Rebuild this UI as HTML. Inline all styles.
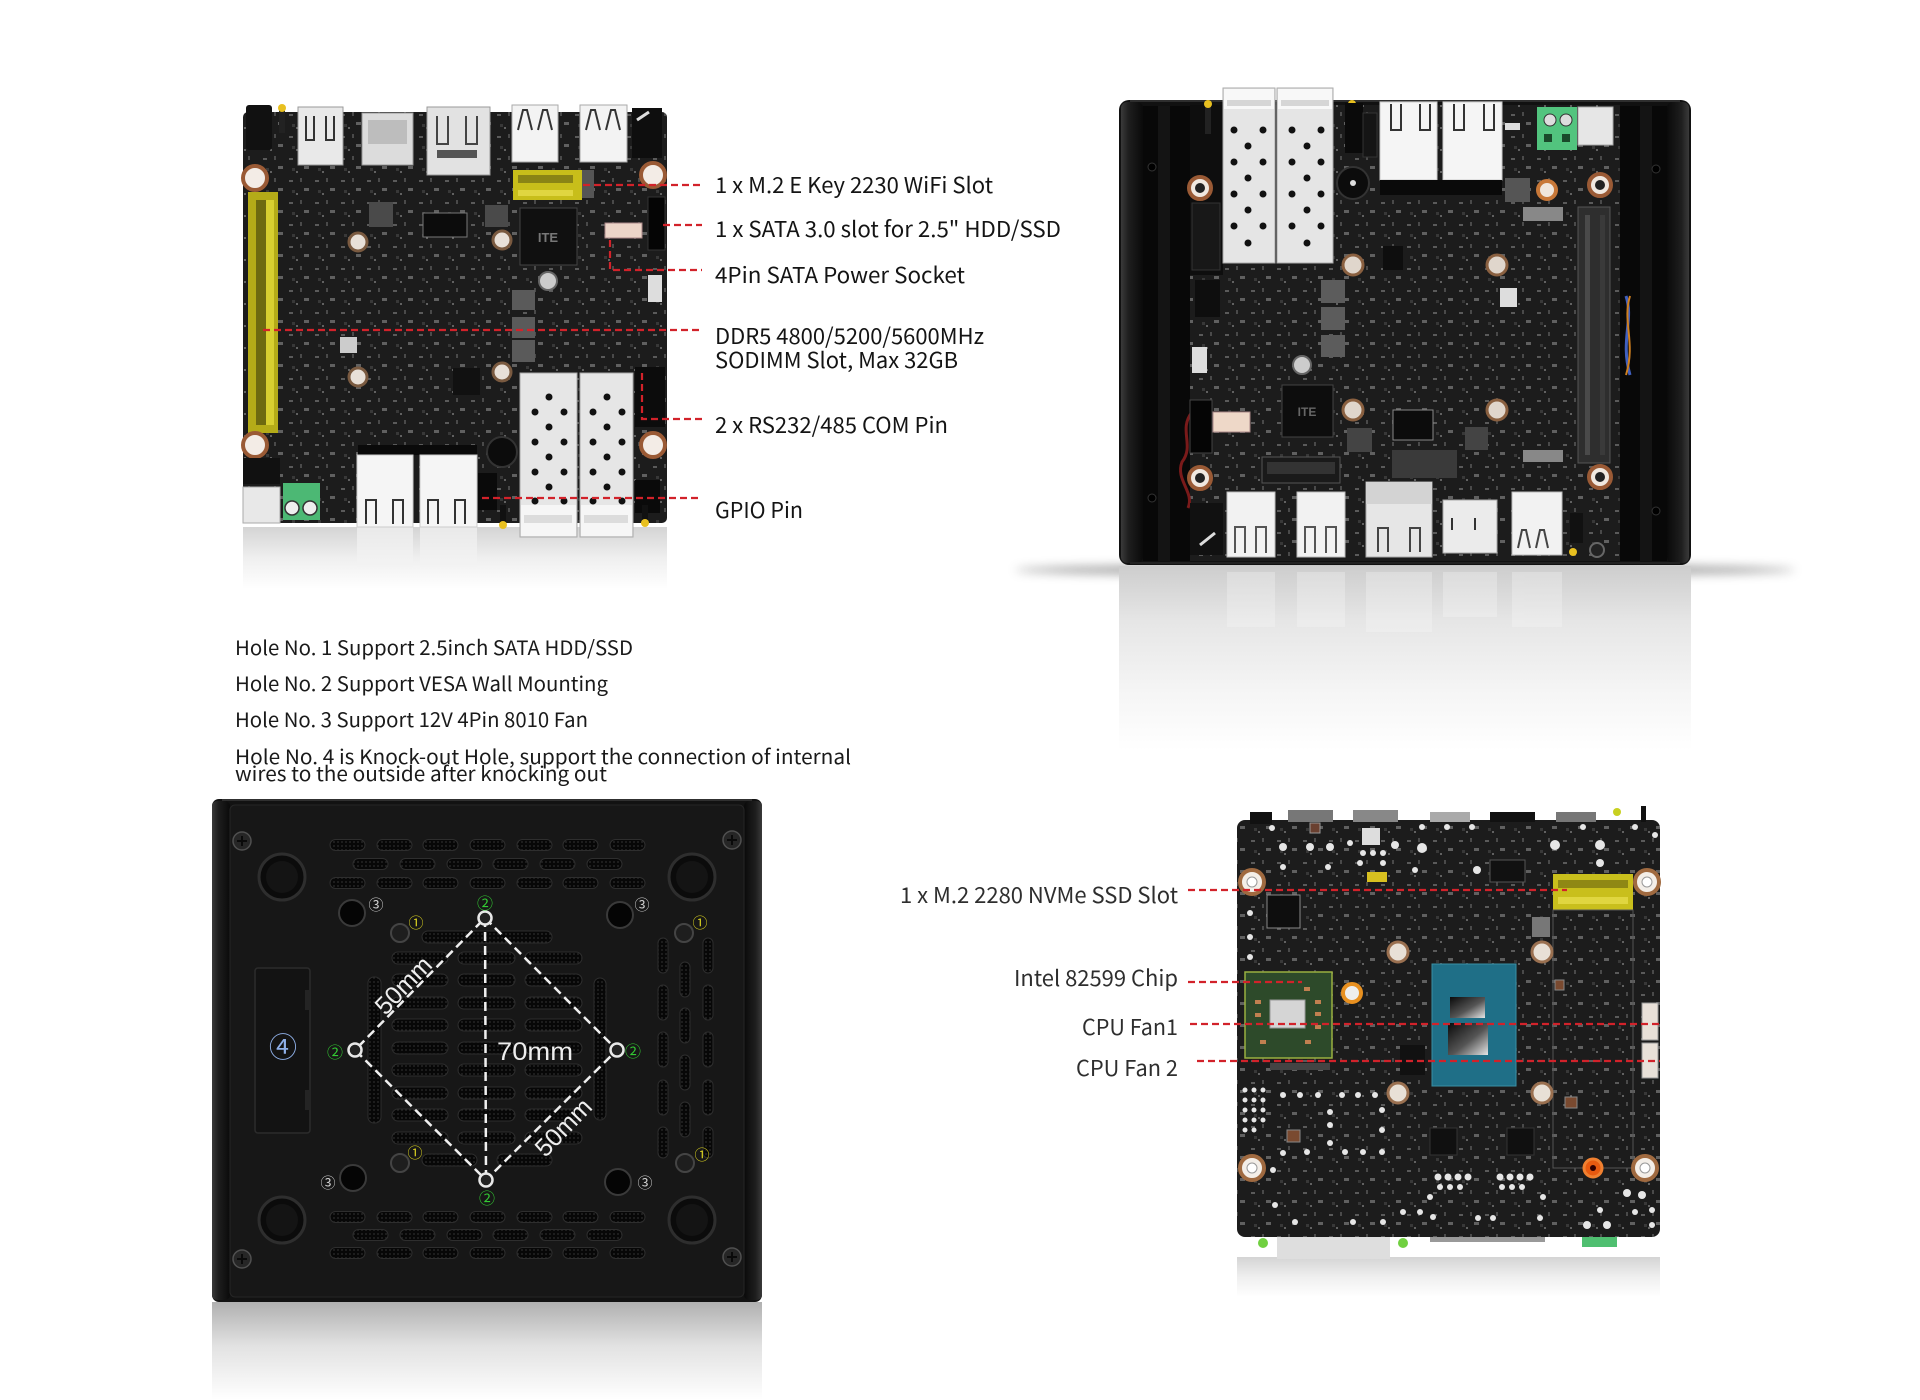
<!DOCTYPE html>
<html><head><meta charset="utf-8"><title>Board layout</title>
<style>
html,body{margin:0;padding:0;background:#fff;}
svg{display:block;}
.lbl{font-family:"Noto Sans CJK SC","Liberation Sans",sans-serif;font-size:22px;fill:#141414;}
.hole{font-family:"Noto Sans CJK SC","Liberation Sans",sans-serif;font-size:20px;fill:#1a1a1a;}
.lbr{font-family:"Noto Sans CJK SC","Liberation Sans",sans-serif;font-size:22px;fill:#2e2e2e;}
.cd{font-family:"Noto Sans CJK SC","DejaVu Sans",sans-serif;text-anchor:middle;}
</style></head>
<body>
<svg width="1920" height="1400" viewBox="0 0 1920 1400" xmlns="http://www.w3.org/2000/svg">
<defs>
  <pattern id="pcb" width="26" height="22" patternUnits="userSpaceOnUse">
    <rect width="26" height="22" fill="#1c1c1c"/>
    <rect x="3" y="4" width="4" height="2" fill="#5a5a5a"/>
    <rect x="14" y="2" width="2" height="4" fill="#4a4a4a"/>
    <rect x="18" y="12" width="5" height="3" fill="#606060"/>
    <rect x="6" y="14" width="3" height="3" fill="#383838"/>
    <circle cx="11" cy="18" r="1" fill="#777"/>
  </pattern>
  <pattern id="mesh" width="4" height="4" patternUnits="userSpaceOnUse">
    <rect width="4" height="4" fill="#070707"/><circle cx="2" cy="2" r="0.9" fill="#2c2c2c"/>
  </pattern>
  <linearGradient id="die" x1="0" y1="0" x2="1" y2="1">
    <stop offset="0" stop-color="#0a0a0a"/><stop offset="0.55" stop-color="#555"/><stop offset="1" stop-color="#e6e6e6"/>
  </linearGradient>
  <linearGradient id="railL" x1="0" y1="0" x2="1" y2="0">
    <stop offset="0" stop-color="#3a3a3a"/><stop offset="0.35" stop-color="#1e1e1e"/><stop offset="1" stop-color="#0a0a0a"/>
  </linearGradient>
  <linearGradient id="railR" x1="1" y1="0" x2="0" y2="0">
    <stop offset="0" stop-color="#3a3a3a"/><stop offset="0.35" stop-color="#1e1e1e"/><stop offset="1" stop-color="#0a0a0a"/>
  </linearGradient>
  <linearGradient id="reflA" x1="0" y1="0" x2="0" y2="1">
    <stop offset="0" stop-color="#d4d4d4"/><stop offset="0.5" stop-color="#efefef"/><stop offset="1" stop-color="#fff"/>
  </linearGradient>
  <linearGradient id="reflB" x1="0" y1="0" x2="0" y2="1">
    <stop offset="0" stop-color="#cdcdcd"/><stop offset="0.3" stop-color="#e6e6e6"/><stop offset="0.7" stop-color="#f6f6f6"/><stop offset="1" stop-color="#fff"/>
  </linearGradient>
  <linearGradient id="reflC" x1="0" y1="0" x2="0" y2="1">
    <stop offset="0" stop-color="#b0b0b0"/><stop offset="0.45" stop-color="#e2e2e2"/><stop offset="1" stop-color="#fff"/>
  </linearGradient>
  <filter id="blur" x="-20%" y="-200%" width="140%" height="500%"><feGaussianBlur stdDeviation="5"/></filter>
</defs>

<rect width="1920" height="1400" fill="#fff"/>

<!-- ================= BOARD A (top-left) ================= -->
<rect x="243" y="527" width="424" height="62" fill="url(#reflA)"/>
<rect x="357" y="527" width="56" height="40" fill="#f2f2f2" opacity="0.7"/>
<rect x="420" y="527" width="57" height="40" fill="#f2f2f2" opacity="0.7"/>
<rect x="243" y="112" width="424" height="411" rx="5" fill="url(#pcb)"/>
<rect x="246" y="105" width="26" height="45" rx="3" fill="#111"/>
<rect x="279" y="108" width="6" height="25" fill="#222"/><circle cx="282" cy="108" r="4" fill="#e8c020"/>
<rect x="298" y="107" width="45" height="58" fill="#e9e9e9" stroke="#999"/>
<path d="M306 116v24h8v-24 M326 116v24h8v-24" fill="none" stroke="#333" stroke-width="2"/>
<rect x="362" y="113" width="51" height="52" fill="#dcdcdc" stroke="#999"/>
<rect x="368" y="120" width="39" height="24" fill="#bdbdbd"/>
<rect x="427" y="107" width="63" height="68" fill="#e2e2e2" stroke="#999"/>
<path d="M437 116v28h11v-28 M466 116v28h11v-28" fill="none" stroke="#444" stroke-width="2"/>
<rect x="437" y="150" width="40" height="8" fill="#555"/>
<rect x="512" y="105" width="46" height="57" fill="#f3f3f3" stroke="#aaa"/>
<path d="M518 130l5-20h4l5 20 M538 130l5-20h4l5 20" fill="none" stroke="#333" stroke-width="2"/>
<rect x="580" y="105" width="47" height="57" fill="#f3f3f3" stroke="#aaa"/>
<path d="M586 130l5-20h4l5 20 M606 130l5-20h4l5 20" fill="none" stroke="#333" stroke-width="2"/>
<rect x="632" y="108" width="30" height="50" fill="#0e0e0e"/>
<path d="M637 120l12-8" stroke="#ddd" stroke-width="3"/>
<rect x="513" y="170" width="69" height="30" fill="#c8be1a"/>
<rect x="518" y="175" width="55" height="8" fill="#8a8415"/>
<rect x="518" y="190" width="55" height="6" fill="#e0d640"/>
<rect x="582" y="170" width="12" height="28" fill="#555"/>
<rect x="248" y="192" width="30" height="241" fill="#b4ab18"/>
<rect x="256" y="200" width="14" height="225" fill="#6e6a10"/>
<rect x="266" y="200" width="8" height="225" fill="#d8cf30"/>
<g fill="#f3ece6" stroke="#9a5a35" stroke-width="4">
<circle cx="255" cy="178" r="12"/><circle cx="653" cy="175" r="12"/><circle cx="255" cy="445" r="12"/><circle cx="653" cy="445" r="12"/>
</g>
<g fill="#e8e0d8" stroke="#7a5a40" stroke-width="3">
<circle cx="358" cy="242" r="9"/><circle cx="502" cy="240" r="9"/><circle cx="358" cy="377" r="9"/><circle cx="502" cy="372" r="9"/>
</g>
<rect x="520" y="208" width="57" height="57" fill="#101010" stroke="#444"/>
<text x="548" y="242" font-family="Liberation Sans,sans-serif" font-size="13" font-weight="bold" fill="#777" text-anchor="middle">ITE</text>
<rect x="369" y="202" width="24" height="25" fill="#4a4a4a"/>
<rect x="485" y="205" width="23" height="22" fill="#4a4a4a"/>
<rect x="423" y="213" width="44" height="24" fill="#0c0c0c" stroke="#777"/>
<rect x="512" y="290" width="23" height="20" fill="#5a5a5a"/>
<rect x="512" y="317" width="23" height="21" fill="#5a5a5a"/>
<rect x="512" y="340" width="23" height="22" fill="#5a5a5a"/>
<rect x="648" y="197" width="17" height="53" fill="#050505" stroke="#333"/>
<rect x="605" y="223" width="37" height="15" fill="#ecd5c8" stroke="#a88"/>
<rect x="648" y="275" width="14" height="27" fill="#ddd"/>
<rect x="453" y="368" width="27" height="27" fill="#111"/>
<rect x="340" y="337" width="17" height="16" fill="#ccc"/>
<circle cx="548" cy="281" r="9" fill="#ccc" stroke="#666" stroke-width="2"/>
<rect x="635" y="367" width="30" height="60" fill="#0c0c0c"/>
<rect x="358" y="445" width="119" height="10" fill="#0a0a0a"/>
<rect x="243" y="458" width="37" height="26" fill="#111"/>
<rect x="243" y="487" width="37" height="36" fill="#e8e8e8" stroke="#aaa"/>
<rect x="283" y="483" width="37" height="37" fill="#4cb874"/>
<circle cx="292" cy="508" r="7" fill="#eee" stroke="#333" stroke-width="1.5"/>
<circle cx="310" cy="508" r="7" fill="#eee" stroke="#333" stroke-width="1.5"/>
<rect x="357" y="455" width="56" height="72" fill="#f5f5f5" stroke="#ccc"/>
<path d="M366 524v-24h10v24 M393 524v-24h10v24" fill="none" stroke="#333" stroke-width="2"/>
<rect x="420" y="455" width="57" height="72" fill="#f5f5f5" stroke="#ccc"/>
<path d="M428 524v-24h10v24 M455 524v-24h10v24" fill="none" stroke="#333" stroke-width="2"/>
<rect x="478" y="473" width="19" height="37" fill="#0a0a0a"/>
<circle cx="502" cy="452" r="15" fill="#0c0c0c" stroke="#333" stroke-width="2"/>
<rect x="500" y="505" width="6" height="20" fill="#111"/><circle cx="503" cy="525" r="4" fill="#e8c020"/>
<rect x="635" y="480" width="25" height="33" fill="#0a0a0a"/>
<rect x="642" y="505" width="6" height="18" fill="#111"/><circle cx="645" cy="523" r="4" fill="#e8c020"/>
<rect x="520" y="373" width="57" height="164" fill="#e6e6e6" stroke="#aaa"/>
<rect x="580" y="373" width="53" height="164" fill="#e6e6e6" stroke="#aaa"/>
<rect x="521" y="505" width="55" height="31" fill="#f6f6f6"/>
<rect x="581" y="505" width="51" height="31" fill="#f6f6f6"/>
<g fill="#dcdcdc"><rect x="524" y="515" width="48" height="8"/><rect x="584" y="515" width="44" height="8"/></g>
<g fill="#111">
<circle cx="549" cy="397" r="3.5"/><circle cx="535" cy="412" r="3.5"/><circle cx="564" cy="412" r="3.5"/>
<circle cx="549" cy="427" r="3.5"/><circle cx="535" cy="442" r="3.5"/><circle cx="564" cy="442" r="3.5"/>
<circle cx="549" cy="457" r="3.5"/><circle cx="535" cy="472" r="3.5"/><circle cx="564" cy="472" r="3.5"/>
<circle cx="549" cy="487" r="3.5"/><circle cx="535" cy="501" r="3.5"/><circle cx="564" cy="501" r="3.5"/>
<circle cx="607" cy="397" r="3.5"/><circle cx="593" cy="412" r="3.5"/><circle cx="622" cy="412" r="3.5"/>
<circle cx="607" cy="427" r="3.5"/><circle cx="593" cy="442" r="3.5"/><circle cx="622" cy="442" r="3.5"/>
<circle cx="607" cy="457" r="3.5"/><circle cx="593" cy="472" r="3.5"/><circle cx="622" cy="472" r="3.5"/>
<circle cx="607" cy="487" r="3.5"/><circle cx="593" cy="501" r="3.5"/><circle cx="622" cy="501" r="3.5"/>
</g>

<path d="M583 185H702 M663 225H702 M610 240V270H702 M263 330H702 M642 373V419H702 M482 498H702" fill="none" stroke="#d2222a" stroke-width="2.2" stroke-dasharray="7 4"/>
<text class="lbl" x="715" y="193" textLength="278" lengthAdjust="spacingAndGlyphs">1 x M.2 E Key 2230 WiFi Slot</text>
<text class="lbl" x="715" y="237" textLength="346" lengthAdjust="spacingAndGlyphs">1 x SATA 3.0 slot for 2.5" HDD/SSD</text>
<text class="lbl" x="715" y="283" textLength="250" lengthAdjust="spacingAndGlyphs">4Pin SATA Power Socket</text>
<text class="lbl" x="715" y="344" textLength="269" lengthAdjust="spacingAndGlyphs">DDR5 4800/5200/5600MHz</text>
<text class="lbl" x="715" y="368" textLength="243" lengthAdjust="spacingAndGlyphs">SODIMM Slot, Max 32GB</text>
<text class="lbl" x="715" y="433" textLength="233" lengthAdjust="spacingAndGlyphs">2 x RS232/485 COM Pin</text>
<text class="lbl" x="715" y="518" textLength="88" lengthAdjust="spacingAndGlyphs">GPIO Pin</text>

<!-- ================= BOX B (top-right) ================= -->
<ellipse cx="1405" cy="570" rx="390" ry="6" fill="#555" opacity="0.55" filter="url(#blur)"/>
<rect x="1119" y="566" width="572" height="185" fill="url(#reflB)"/>
<g fill="#fafafa" opacity="0.3">
<rect x="1227" y="572" width="48" height="55"/><rect x="1297" y="572" width="48" height="55"/>
<rect x="1366" y="572" width="66" height="60"/><rect x="1443" y="572" width="54" height="45"/><rect x="1512" y="572" width="50" height="55"/>
</g>
<rect x="1119" y="100" width="572" height="465" rx="10" fill="#111"/>
<rect x="1121" y="102" width="22" height="461" rx="6" fill="url(#railL)"/>
<rect x="1143" y="106" width="47" height="455" fill="#080808"/>
<rect x="1158" y="106" width="12" height="455" fill="#141414"/>
<rect x="1667" y="102" width="22" height="461" rx="6" fill="url(#railR)"/>
<rect x="1619" y="106" width="48" height="455" fill="#080808"/>
<rect x="1640" y="106" width="12" height="455" fill="#141414"/>
<line x1="1130" y1="101" x2="1680" y2="101" stroke="#4a4a4a"/>
<g fill="#000" stroke="#333"><circle cx="1152" cy="167" r="4"/><circle cx="1152" cy="498" r="4"/><circle cx="1656" cy="169" r="4"/><circle cx="1656" cy="511" r="4"/></g>
<rect x="1190" y="105" width="430" height="456" fill="url(#pcb)"/>
<path d="M1192 412 C1178 430 1195 445 1182 462 C1175 480 1195 492 1188 508" fill="none" stroke="#7a1a1a" stroke-width="3"/>
<path d="M1626 296 C1634 320 1620 340 1630 375" fill="none" stroke="#4060c0" stroke-width="3"/>
<path d="M1630 296 C1622 322 1636 342 1626 375" fill="none" stroke="#d08020" stroke-width="2"/>
<rect x="1190" y="105" width="33" height="170" fill="#0e0e0e"/>
<rect x="1205" y="104" width="6" height="30" fill="#222"/><circle cx="1208" cy="104" r="4" fill="#e8c020"/>
<rect x="1349" y="104" width="6" height="25" fill="#222"/><circle cx="1352" cy="104" r="4" fill="#e8c020"/>
<rect x="1223" y="88" width="52" height="175" fill="#e5e5e5" stroke="#aaa"/>
<rect x="1277" y="88" width="56" height="175" fill="#e5e5e5" stroke="#aaa"/>
<rect x="1224" y="89" width="50" height="20" fill="#f8f8f8"/><rect x="1278" y="89" width="54" height="20" fill="#f8f8f8"/>
<g fill="#d6d6d6"><rect x="1227" y="100" width="44" height="6"/><rect x="1281" y="100" width="48" height="6"/></g>
<g fill="#111">
<circle cx="1234" cy="130" r="3.5"/><circle cx="1263" cy="130" r="3.5"/><circle cx="1248" cy="146" r="3.5"/>
<circle cx="1234" cy="162" r="3.5"/><circle cx="1263" cy="162" r="3.5"/><circle cx="1248" cy="178" r="3.5"/>
<circle cx="1234" cy="194" r="3.5"/><circle cx="1263" cy="194" r="3.5"/><circle cx="1248" cy="210" r="3.5"/>
<circle cx="1234" cy="226" r="3.5"/><circle cx="1263" cy="226" r="3.5"/><circle cx="1248" cy="243" r="3.5"/>
<circle cx="1292" cy="130" r="3.5"/><circle cx="1321" cy="130" r="3.5"/><circle cx="1307" cy="146" r="3.5"/>
<circle cx="1292" cy="162" r="3.5"/><circle cx="1321" cy="162" r="3.5"/><circle cx="1307" cy="178" r="3.5"/>
<circle cx="1292" cy="194" r="3.5"/><circle cx="1321" cy="194" r="3.5"/><circle cx="1307" cy="210" r="3.5"/>
<circle cx="1292" cy="226" r="3.5"/><circle cx="1321" cy="226" r="3.5"/><circle cx="1307" cy="243" r="3.5"/>
</g>
<rect x="1345" y="103" width="18" height="50" fill="#0a0a0a"/>
<rect x="1363" y="113" width="14" height="44" fill="#151515" stroke="#333"/>
<circle cx="1353" cy="183" r="16" fill="#0c0c0c" stroke="#333" stroke-width="2"/>
<circle cx="1353" cy="183" r="3" fill="#ddd"/>
<rect x="1380" y="102" width="57" height="78" fill="#f5f5f5" stroke="#ccc"/>
<path d="M1391 104v26h10v-26 M1420 104v26h10v-26" fill="none" stroke="#333" stroke-width="2"/>
<rect x="1443" y="102" width="59" height="78" fill="#f5f5f5" stroke="#ccc"/>
<path d="M1454 104v26h10v-26 M1484 104v26h10v-26" fill="none" stroke="#333" stroke-width="2"/>
<rect x="1380" y="180" width="122" height="15" fill="#0a0a0a"/>
<rect x="1505" y="123" width="15" height="7" fill="#ddd"/>
<rect x="1537" y="107" width="40" height="43" fill="#52c47e"/>
<circle cx="1550" cy="120" r="6" fill="#ddd" stroke="#333"/><circle cx="1566" cy="120" r="6" fill="#ddd" stroke="#333"/>
<rect x="1544" y="134" width="8" height="8" fill="#1a4a2a"/><rect x="1562" y="134" width="8" height="8" fill="#1a4a2a"/>
<rect x="1578" y="107" width="35" height="38" fill="#e6e6e6" stroke="#aaa"/>
<rect x="1505" y="178" width="25" height="24" fill="#555"/>
<circle cx="1547" cy="190" r="9" fill="#f0e6dc" stroke="#c87838" stroke-width="4"/>
<g fill="#f0e8e0" stroke="#9a5a35" stroke-width="4">
<circle cx="1200" cy="188" r="11"/><circle cx="1600" cy="185" r="11"/><circle cx="1200" cy="478" r="11"/><circle cx="1600" cy="477" r="11"/>
</g>
<g fill="#222"><circle cx="1200" cy="188" r="5"/><circle cx="1600" cy="185" r="5"/><circle cx="1200" cy="478" r="5"/><circle cx="1600" cy="477" r="5"/></g>
<rect x="1578" y="207" width="32" height="256" fill="#2e2e2e" stroke="#555"/>
<rect x="1585" y="215" width="5" height="240" fill="#4a4a4a"/>
<rect x="1600" y="215" width="5" height="240" fill="#3a3a3a"/>
<rect x="1523" y="207" width="40" height="14" fill="#888"/>
<rect x="1523" y="450" width="40" height="12" fill="#888"/>
<g fill="#e0d6cc" stroke="#8a6040" stroke-width="3">
<circle cx="1353" cy="265" r="10"/><circle cx="1497" cy="265" r="10"/><circle cx="1353" cy="410" r="10"/><circle cx="1497" cy="410" r="10"/>
</g>
<rect x="1321" y="280" width="24" height="23" fill="#5c5c5c"/>
<rect x="1321" y="307" width="24" height="23" fill="#5c5c5c"/>
<rect x="1321" y="335" width="24" height="22" fill="#5c5c5c"/>
<circle cx="1302" cy="365" r="9" fill="#ccc" stroke="#666" stroke-width="2"/>
<rect x="1282" y="385" width="51" height="52" fill="#0d0d0d" stroke="#444"/>
<text x="1307" y="416" font-family="Liberation Sans,sans-serif" font-size="12" font-weight="bold" fill="#666" text-anchor="middle">ITE</text>
<rect x="1383" y="246" width="20" height="24" fill="#0e0e0e"/>
<rect x="1393" y="410" width="40" height="30" fill="#0c0c0c" stroke="#888"/>
<rect x="1465" y="427" width="23" height="23" fill="#444"/>
<rect x="1347" y="428" width="25" height="24" fill="#444"/>
<rect x="1500" y="288" width="17" height="19" fill="#ddd"/>
<rect x="1192" y="203" width="28" height="67" fill="#181818" stroke="#333"/>
<rect x="1195" y="280" width="25" height="37" fill="#0e0e0e"/>
<rect x="1192" y="347" width="15" height="26" fill="#ddd"/>
<rect x="1190" y="400" width="22" height="53" fill="#050505" stroke="#444"/>
<rect x="1213" y="412" width="37" height="20" fill="#eed8c8" stroke="#a88"/>
<rect x="1262" y="457" width="78" height="26" fill="#1a1a1a" stroke="#555"/>
<rect x="1267" y="462" width="68" height="12" fill="#333"/>
<rect x="1392" y="450" width="65" height="28" fill="#3a3a3a"/>
<rect x="1190" y="503" width="33" height="52" fill="#111"/>
<path d="M1200 545l15-12" stroke="#ddd" stroke-width="3"/>
<rect x="1227" y="492" width="48" height="65" fill="#f2f2f2" stroke="#bbb"/>
<path d="M1235 553v-26h10v26 M1256 553v-26h10v26" fill="none" stroke="#555" stroke-width="2"/>
<rect x="1297" y="492" width="48" height="65" fill="#f2f2f2" stroke="#bbb"/>
<path d="M1305 553v-26h10v26 M1326 553v-26h10v26" fill="none" stroke="#555" stroke-width="2"/>
<rect x="1366" y="482" width="66" height="75" fill="#e6e6e6" stroke="#aaa"/>
<rect x="1366" y="482" width="66" height="22" fill="#d3d3d3"/>
<path d="M1378 552v-24h10v24 M1410 552v-24h10v24" fill="none" stroke="#444" stroke-width="2"/>
<rect x="1443" y="500" width="54" height="53" fill="#ebebeb" stroke="#aaa"/>
<path d="M1452 530v-12 M1475 530v-12" stroke="#333" stroke-width="2"/>
<rect x="1512" y="492" width="50" height="63" fill="#f2f2f2" stroke="#bbb"/>
<path d="M1518 548l4-18h4l4 18 M1536 548l4-18h4l4 18" fill="none" stroke="#444" stroke-width="2"/>
<rect x="1570" y="513" width="13" height="30" fill="#111"/>
<circle cx="1573" cy="552" r="4" fill="#e8c020"/>
<circle cx="1597" cy="550" r="7" fill="#222" stroke="#666" stroke-width="2"/>
<line x1="1130" y1="563" x2="1680" y2="563" stroke="#222" stroke-width="2"/>

<!-- ================= CASE (bottom-left) ================= -->
<rect x="212" y="1302" width="550" height="98" fill="url(#reflC)"/>
<rect x="212" y="799" width="550" height="503" rx="7" fill="#121212"/>
<rect x="212" y="801" width="18" height="499" rx="5" fill="url(#railL)"/>
<rect x="744" y="801" width="18" height="499" rx="5" fill="url(#railR)"/>
<line x1="222" y1="800" x2="752" y2="800" stroke="#3a3a3a" stroke-width="1.5"/>
<rect x="230" y="805" width="514" height="492" rx="5" fill="#171717" stroke="#262626"/>
<g fill="#262626" stroke="#505050" stroke-width="1.5">
<circle cx="242" cy="841" r="9"/><circle cx="732" cy="840" r="9"/><circle cx="242" cy="1259" r="9"/><circle cx="732" cy="1257" r="9"/>
</g>
<path d="M237 841h10M242 836v10 M727 840h10M732 835v10 M237 1259h10M242 1254v10 M727 1257h10M732 1252v10" stroke="#0a0a0a" stroke-width="2"/>
<g fill="#0b0b0b" stroke="#2e2e2e" stroke-width="3">
<circle cx="282" cy="877" r="23"/><circle cx="692" cy="877" r="23"/><circle cx="282" cy="1220" r="23"/><circle cx="692" cy="1220" r="23"/>
</g>
<g fill="#141414"><circle cx="282" cy="877" r="16"/><circle cx="692" cy="877" r="16"/><circle cx="282" cy="1220" r="16"/><circle cx="692" cy="1220" r="16"/></g>
<g fill="url(#mesh)" stroke="#2e2e2e" stroke-width="1">
<rect x="330" y="839.5" width="35" height="11" rx="5.5"/><rect x="377" y="839.5" width="35" height="11" rx="5.5"/><rect x="423" y="839.5" width="35" height="11" rx="5.5"/><rect x="470" y="839.5" width="35" height="11" rx="5.5"/><rect x="517" y="839.5" width="35" height="11" rx="5.5"/><rect x="563" y="839.5" width="35" height="11" rx="5.5"/><rect x="610" y="839.5" width="35" height="11" rx="5.5"/>
<rect x="353" y="858.5" width="35" height="11" rx="5.5"/><rect x="400" y="858.5" width="35" height="11" rx="5.5"/><rect x="447" y="858.5" width="35" height="11" rx="5.5"/><rect x="493" y="858.5" width="35" height="11" rx="5.5"/><rect x="540" y="858.5" width="35" height="11" rx="5.5"/><rect x="587" y="858.5" width="35" height="11" rx="5.5"/>
<rect x="330" y="877.5" width="35" height="11" rx="5.5"/><rect x="377" y="877.5" width="35" height="11" rx="5.5"/><rect x="423" y="877.5" width="35" height="11" rx="5.5"/><rect x="470" y="877.5" width="35" height="11" rx="5.5"/><rect x="517" y="877.5" width="35" height="11" rx="5.5"/><rect x="563" y="877.5" width="35" height="11" rx="5.5"/><rect x="610" y="877.5" width="35" height="11" rx="5.5"/>
<rect x="330" y="1211.5" width="35" height="11" rx="5.5"/><rect x="377" y="1211.5" width="35" height="11" rx="5.5"/><rect x="423" y="1211.5" width="35" height="11" rx="5.5"/><rect x="470" y="1211.5" width="35" height="11" rx="5.5"/><rect x="517" y="1211.5" width="35" height="11" rx="5.5"/><rect x="563" y="1211.5" width="35" height="11" rx="5.5"/><rect x="610" y="1211.5" width="35" height="11" rx="5.5"/>
<rect x="353" y="1229.5" width="35" height="11" rx="5.5"/><rect x="400" y="1229.5" width="35" height="11" rx="5.5"/><rect x="447" y="1229.5" width="35" height="11" rx="5.5"/><rect x="493" y="1229.5" width="35" height="11" rx="5.5"/><rect x="540" y="1229.5" width="35" height="11" rx="5.5"/><rect x="587" y="1229.5" width="35" height="11" rx="5.5"/>
<rect x="330" y="1247.5" width="35" height="11" rx="5.5"/><rect x="377" y="1247.5" width="35" height="11" rx="5.5"/><rect x="423" y="1247.5" width="35" height="11" rx="5.5"/><rect x="470" y="1247.5" width="35" height="11" rx="5.5"/><rect x="517" y="1247.5" width="35" height="11" rx="5.5"/><rect x="563" y="1247.5" width="35" height="11" rx="5.5"/><rect x="610" y="1247.5" width="35" height="11" rx="5.5"/>
<rect x="422" y="931" width="130" height="12" rx="6"/>
<rect x="392" y="952" width="56" height="12" rx="6"/><rect x="458" y="952" width="57" height="12" rx="6"/><rect x="525" y="952" width="57" height="12" rx="6"/>
<rect x="392" y="974" width="56" height="12" rx="6"/><rect x="458" y="974" width="57" height="12" rx="6"/><rect x="525" y="974" width="57" height="12" rx="6"/>
<rect x="392" y="997" width="56" height="12" rx="6"/><rect x="458" y="997" width="57" height="12" rx="6"/><rect x="525" y="997" width="57" height="12" rx="6"/>
<rect x="392" y="1019" width="56" height="12" rx="6"/><rect x="458" y="1019" width="57" height="12" rx="6"/><rect x="525" y="1019" width="57" height="12" rx="6"/>
<rect x="392" y="1042" width="56" height="12" rx="6"/><rect x="458" y="1042" width="57" height="12" rx="6"/><rect x="525" y="1042" width="57" height="12" rx="6"/>
<rect x="392" y="1064" width="56" height="12" rx="6"/><rect x="458" y="1064" width="57" height="12" rx="6"/><rect x="525" y="1064" width="57" height="12" rx="6"/>
<rect x="392" y="1087" width="56" height="12" rx="6"/><rect x="458" y="1087" width="57" height="12" rx="6"/><rect x="525" y="1087" width="57" height="12" rx="6"/>
<rect x="392" y="1109" width="56" height="12" rx="6"/><rect x="458" y="1109" width="57" height="12" rx="6"/><rect x="525" y="1109" width="57" height="12" rx="6"/>
<rect x="392" y="1132" width="56" height="12" rx="6"/><rect x="458" y="1132" width="57" height="12" rx="6"/><rect x="525" y="1132" width="57" height="12" rx="6"/>
<rect x="422" y="1154" width="55" height="12" rx="6"/><rect x="497" y="1154" width="55" height="12" rx="6"/>
<rect x="368" y="977" width="13" height="146" rx="6"/>
<rect x="594" y="978" width="12" height="142" rx="6"/>
<rect x="658" y="938" width="10" height="35" rx="5"/><rect x="658" y="985" width="10" height="35" rx="5"/><rect x="658" y="1032" width="10" height="35" rx="5"/><rect x="658" y="1080" width="10" height="35" rx="5"/><rect x="658" y="1127" width="10" height="31" rx="5"/>
<rect x="680" y="962" width="10" height="35" rx="5"/><rect x="680" y="1008" width="10" height="35" rx="5"/><rect x="680" y="1055" width="10" height="35" rx="5"/><rect x="680" y="1102" width="10" height="35" rx="5"/>
<rect x="703" y="938" width="10" height="35" rx="5"/><rect x="703" y="985" width="10" height="35" rx="5"/><rect x="703" y="1032" width="10" height="35" rx="5"/><rect x="703" y="1080" width="10" height="35" rx="5"/><rect x="703" y="1127" width="10" height="31" rx="5"/>
</g>
<rect x="255" y="968" width="55" height="165" rx="3" fill="#131313" stroke="#2c2c2c" stroke-width="1.5"/>
<rect x="305" y="990" width="6" height="20" fill="#242424"/><rect x="305" y="1090" width="6" height="20" fill="#242424"/>
<g fill="#050505" stroke="#3a3a3a" stroke-width="2">
<circle cx="352" cy="913" r="13"/><circle cx="620" cy="915" r="13"/><circle cx="353" cy="1178" r="13"/><circle cx="618" cy="1182" r="13"/>
</g>
<g fill="#1e1e1e" stroke="#444" stroke-width="2">
<circle cx="400" cy="933" r="9"/><circle cx="684" cy="933" r="9"/><circle cx="400" cy="1163" r="9"/><circle cx="685" cy="1163" r="9"/>
</g>
<g fill="none" stroke="#f0f0f0" stroke-width="2.5" stroke-dasharray="9 5">
<path d="M485 918L617 1050L486 1180L355 1050Z"/>
<path d="M485 918L486 1180"/>
</g>
<g fill="#222" stroke="#e8e8e8" stroke-width="2.5">
<circle cx="485" cy="918" r="6.5"/><circle cx="355" cy="1050" r="6.5"/><circle cx="617" cy="1050" r="6.5"/><circle cx="486" cy="1180" r="6.5"/>
</g>
<text x="497" y="1060" font-family="Liberation Sans,sans-serif" font-size="25" fill="#eee" textLength="76" lengthAdjust="spacingAndGlyphs">70mm</text>
<text transform="translate(403,985) rotate(-46)" x="0" y="9" font-family="Liberation Sans,sans-serif" font-size="25" fill="#eee" text-anchor="middle">50mm</text>
<text transform="translate(563,1127) rotate(-46)" x="0" y="9" font-family="Liberation Sans,sans-serif" font-size="25" fill="#eee" text-anchor="middle">50mm</text>
<g class="cd" font-size="16" fill="#33cc33">
<text x="485" y="909">②</text><text x="335" y="1058">②</text><text x="633" y="1057">②</text><text x="487" y="1204">②</text>
</g>
<g class="cd" font-size="15" fill="#d8d020">
<text x="416" y="928">①</text><text x="700" y="928">①</text><text x="415" y="1158">①</text><text x="702" y="1160">①</text>
</g>
<g class="cd" font-size="15" fill="#d0d0d0">
<text x="376" y="910">③</text><text x="642" y="910">③</text><text x="328" y="1188">③</text><text x="645" y="1188">③</text>
</g>
<text class="cd" x="283" y="1057" font-size="28" fill="#8fb0e8">④</text>

<text class="hole" x="235" y="655" textLength="398" lengthAdjust="spacingAndGlyphs">Hole No. 1 Support 2.5inch SATA HDD/SSD</text>
<text class="hole" x="235" y="691" textLength="373" lengthAdjust="spacingAndGlyphs">Hole No. 2 Support VESA Wall Mounting</text>
<text class="hole" x="235" y="727" textLength="353" lengthAdjust="spacingAndGlyphs">Hole No. 3 Support 12V 4Pin 8010 Fan</text>
<text class="hole" x="235" y="764" textLength="616" lengthAdjust="spacingAndGlyphs">Hole No. 4 is Knock-out Hole, support the connection of internal</text>
<text class="hole" x="235" y="781" textLength="372" lengthAdjust="spacingAndGlyphs">wires to the outside after knocking out</text>

<!-- ================= BOARD C (bottom-right) ================= -->
<rect x="1237" y="1257" width="423" height="40" fill="url(#reflA)"/>
<rect x="1277" y="1237" width="113" height="22" fill="#dedede"/>
<circle cx="1263" cy="1243" r="5" fill="#70d040"/><circle cx="1403" cy="1243" r="5" fill="#70d040"/>
<rect x="1582" y="1237" width="35" height="10" fill="#4fbf70"/>
<rect x="1430" y="1237" width="115" height="5" fill="#999"/>
<rect x="1237" y="820" width="423" height="417" rx="8" fill="url(#pcb)"/>
<rect x="1250" y="812" width="22" height="12" fill="#111"/>
<rect x="1288" y="810" width="45" height="12" fill="#777"/>
<rect x="1353" y="810" width="45" height="12" fill="#888"/>
<rect x="1430" y="812" width="40" height="10" fill="#aaa"/>
<rect x="1490" y="812" width="45" height="10" fill="#111"/>
<rect x="1556" y="812" width="40" height="10" fill="#777"/>
<circle cx="1617" cy="812" r="4" fill="#c8d020"/>
<rect x="1641" y="806" width="5" height="16" fill="#111"/>
<g fill="#e6e6e6">
<circle cx="1272" cy="828" r="3"/><circle cx="1283" cy="847" r="4"/><circle cx="1310" cy="847" r="4"/><circle cx="1330" cy="847" r="4"/><circle cx="1350" cy="843" r="3"/><circle cx="1395" cy="845" r="4"/>
<circle cx="1422" cy="827" r="3"/><circle cx="1447" cy="827" r="3"/><circle cx="1472" cy="827" r="3"/><circle cx="1422" cy="848" r="5"/><circle cx="1477" cy="870" r="4"/><circle cx="1415" cy="870" r="3"/>
<circle cx="1555" cy="845" r="5"/><circle cx="1600" cy="845" r="5"/><circle cx="1600" cy="863" r="4"/><circle cx="1655" cy="835" r="3"/><circle cx="1635" cy="827" r="3"/><circle cx="1583" cy="827" r="3"/>
<circle cx="1283" cy="867" r="3"/><circle cx="1328" cy="867" r="3"/><circle cx="1360" cy="863" r="3"/><circle cx="1383" cy="853" r="3"/><circle cx="1373" cy="853" r="3"/><circle cx="1363" cy="853" r="3"/><circle cx="1383" cy="863" r="3"/>
<circle cx="1250" cy="913" r="3"/><circle cx="1250" cy="937" r="3"/><circle cx="1250" cy="957" r="3"/>
<circle cx="1283" cy="1095" r="3"/><circle cx="1300" cy="1095" r="3"/><circle cx="1318" cy="1095" r="3"/><circle cx="1342" cy="1095" r="3"/><circle cx="1358" cy="1095" r="3"/><circle cx="1375" cy="1095" r="3"/>
<circle cx="1330" cy="1112" r="3"/><circle cx="1330" cy="1125" r="3"/><circle cx="1330" cy="1143" r="3"/><circle cx="1345" cy="1152" r="3"/><circle cx="1363" cy="1152" r="3"/><circle cx="1382" cy="1152" r="3"/>
<circle cx="1382" cy="1110" r="3"/><circle cx="1382" cy="1130" r="3"/><circle cx="1283" cy="1153" r="3"/><circle cx="1307" cy="1152" r="3"/><circle cx="1273" cy="1170" r="3"/>
<circle cx="1275" cy="1205" r="3"/><circle cx="1295" cy="1222" r="3"/><circle cx="1353" cy="1222" r="3"/><circle cx="1383" cy="1222" r="3"/><circle cx="1403" cy="1212" r="3"/><circle cx="1420" cy="1212" r="3"/>
<circle cx="1430" cy="1197" r="3"/><circle cx="1433" cy="1217" r="3"/>
<circle cx="1438" cy="1177" r="3.5"/><circle cx="1448" cy="1177" r="3.5"/><circle cx="1458" cy="1177" r="3.5"/><circle cx="1468" cy="1177" r="3.5"/>
<circle cx="1500" cy="1177" r="3.5"/><circle cx="1510" cy="1177" r="3.5"/><circle cx="1520" cy="1177" r="3.5"/><circle cx="1530" cy="1177" r="3.5"/>
<circle cx="1440" cy="1187" r="3"/><circle cx="1450" cy="1187" r="3"/><circle cx="1460" cy="1187" r="3"/><circle cx="1502" cy="1187" r="3"/><circle cx="1512" cy="1187" r="3"/><circle cx="1522" cy="1187" r="3"/>
<circle cx="1478" cy="1218" r="3"/><circle cx="1493" cy="1218" r="3"/><circle cx="1540" cy="1218" r="3"/><circle cx="1543" cy="1197" r="3"/>
<circle cx="1627" cy="1193" r="4"/><circle cx="1642" cy="1195" r="4"/><circle cx="1600" cy="1210" r="3"/><circle cx="1587" cy="1225" r="4"/><circle cx="1607" cy="1225" r="4"/><circle cx="1652" cy="1210" r="3"/><circle cx="1652" cy="1225" r="3"/><circle cx="1635" cy="1212" r="3"/>
<circle cx="1245" cy="1090" r="2.5"/><circle cx="1254" cy="1090" r="2.5"/><circle cx="1263" cy="1090" r="2.5"/>
<circle cx="1245" cy="1100" r="2.5"/><circle cx="1254" cy="1100" r="2.5"/><circle cx="1263" cy="1100" r="2.5"/>
<circle cx="1245" cy="1110" r="2.5"/><circle cx="1254" cy="1110" r="2.5"/><circle cx="1263" cy="1110" r="2.5"/>
<circle cx="1245" cy="1120" r="2.5"/><circle cx="1254" cy="1120" r="2.5"/><circle cx="1263" cy="1120" r="2.5"/>
<circle cx="1245" cy="1130" r="2.5"/><circle cx="1254" cy="1130" r="2.5"/>
</g>
<rect x="1310" y="823" width="10" height="10" fill="#6a4030" stroke="#999"/>
<rect x="1362" y="828" width="18" height="17" fill="#ddd"/>
<rect x="1367" y="872" width="20" height="10" fill="#d8c020"/>
<rect x="1267" y="895" width="33" height="33" fill="#0e0e0e" stroke="#888"/>
<rect x="1490" y="860" width="35" height="22" fill="#111" stroke="#555"/>
<rect x="1532" y="917" width="18" height="20" fill="#777"/>
<rect x="1553" y="874" width="80" height="36" fill="#c9bf1c"/>
<rect x="1558" y="880" width="70" height="8" fill="#8f8814"/>
<rect x="1558" y="897" width="70" height="7" fill="#e0d640"/>
<rect x="1553" y="910" width="80" height="258" fill="none" stroke="#555"/>
<g fill="#f3eee8" stroke="#a06a40" stroke-width="4">
<circle cx="1252" cy="882" r="12"/><circle cx="1647" cy="882" r="12"/><circle cx="1252" cy="1168" r="12"/><circle cx="1645" cy="1168" r="12"/>
</g>
<g fill="#fff" stroke="#999"><circle cx="1252" cy="882" r="5"/><circle cx="1647" cy="882" r="5"/><circle cx="1252" cy="1168" r="5"/><circle cx="1645" cy="1168" r="5"/></g>
<g fill="#e8e0d6" stroke="#9a7050" stroke-width="3">
<circle cx="1398" cy="952" r="10"/><circle cx="1542" cy="952" r="10"/><circle cx="1398" cy="1093" r="10"/><circle cx="1542" cy="1093" r="10"/>
</g>
<rect x="1245" y="972" width="87" height="86" fill="#2d4a2a" stroke="#9ab040" stroke-width="1.5"/>
<rect x="1270" y="1000" width="35" height="28" fill="#d5d5d5" stroke="#999"/>
<g fill="#c08050"><rect x="1304" y="987" width="6" height="4"/><rect x="1315" y="1000" width="6" height="4"/><rect x="1315" y="1012" width="6" height="4"/><rect x="1315" y="1025" width="6" height="4"/><rect x="1255" y="1000" width="6" height="4"/><rect x="1255" y="1013" width="6" height="4"/><rect x="1260" y="1040" width="6" height="4"/><rect x="1305" y="1040" width="6" height="4"/></g>
<circle cx="1352" cy="993" r="9" fill="#eee" stroke="#e89020" stroke-width="4"/>
<rect x="1432" y="964" width="84" height="122" fill="#1f6f87" stroke="#3a8fa5"/>
<rect x="1450" y="997" width="35" height="21" fill="url(#die)"/>
<rect x="1448" y="1023" width="40" height="32" fill="url(#die)"/>
<rect x="1555" y="980" width="9" height="10" fill="#7a4a30" stroke="#888"/>
<rect x="1565" y="1097" width="12" height="11" fill="#7a4a30" stroke="#888"/>
<rect x="1287" y="1130" width="13" height="12" fill="#7a4a30" stroke="#888"/>
<rect x="1430" y="1128" width="27" height="27" fill="#101010" stroke="#333"/>
<rect x="1507" y="1128" width="27" height="27" fill="#101010" stroke="#333"/>
<rect x="1270" y="1063" width="60" height="7" fill="#444"/>
<rect x="1400" y="1045" width="25" height="30" fill="#111"/>
<circle cx="1593" cy="1168" r="9" fill="#e85a10" stroke="#f08030" stroke-width="3"/>
<circle cx="1593" cy="1168" r="3" fill="#300"/>
<rect x="1642" y="1003" width="16" height="37" fill="#e8e0d8" stroke="#999"/>
<rect x="1642" y="1043" width="16" height="35" fill="#e8e0d8" stroke="#999"/>

<path d="M1188 890H1567 M1188 982H1302 M1190 1024H1660 M1197 1061H1660" fill="none" stroke="#d2222a" stroke-width="2.2" stroke-dasharray="7 4"/>
<text class="lbr" x="900" y="903" textLength="278" lengthAdjust="spacingAndGlyphs">1 x M.2 2280 NVMe SSD Slot</text>
<text class="lbr" x="1014" y="986" textLength="164" lengthAdjust="spacingAndGlyphs">Intel 82599 Chip</text>
<text class="lbr" x="1082" y="1035" textLength="96" lengthAdjust="spacingAndGlyphs">CPU Fan1</text>
<text class="lbr" x="1076" y="1076" textLength="102" lengthAdjust="spacingAndGlyphs">CPU Fan 2</text>
</svg>
</body></html>
